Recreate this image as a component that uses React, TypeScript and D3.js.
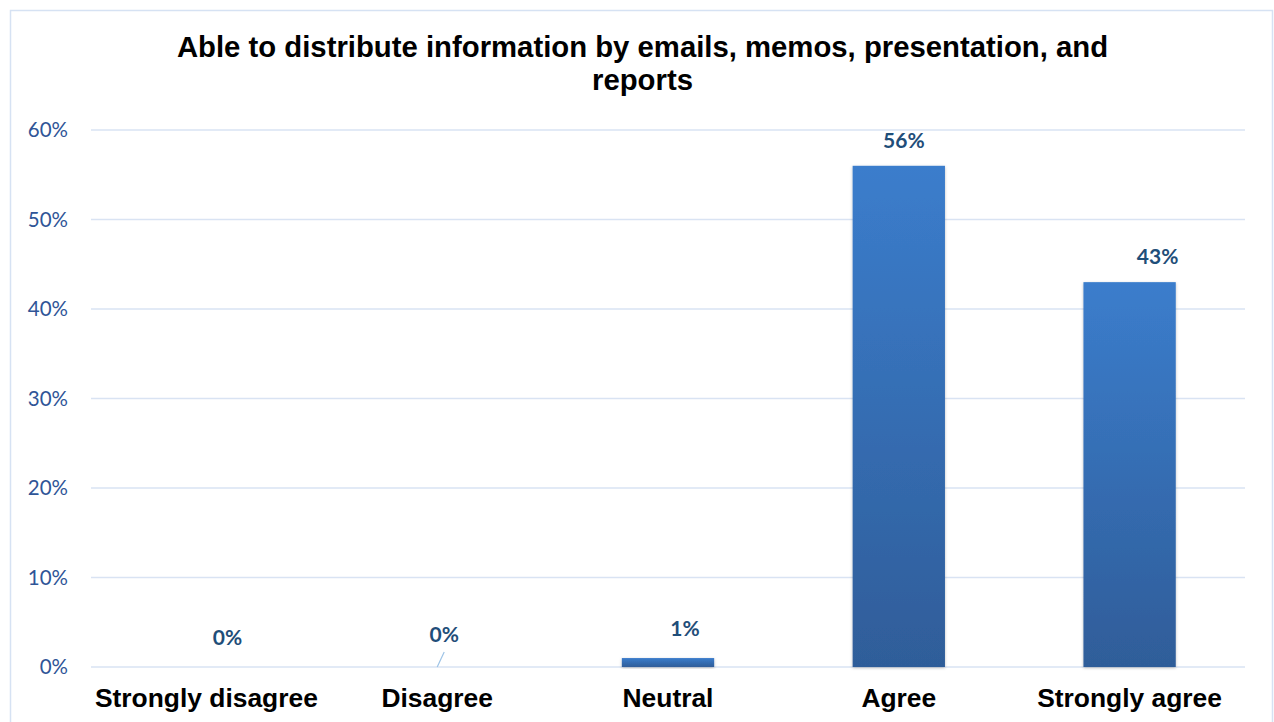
import React from "react";
import * as d3 from "d3";

const categories = ["Strongly disagree", "Disagree", "Neutral", "Agree", "Strongly agree"];
const values = [0, 0, 1, 56, 43];
const yTicks = [0, 10, 20, 30, 40, 50, 60];
const titleLines = ["Able to distribute information by emails, memos, presentation, and", "reports"];
// manual label nudges seen in the source chart (layout constants)
const labelDx = [21, 7, 17, 5, 28];
const labelBaselines = [645, 642, null, null, null];

export default function App() {
  const W = 1274, H = 722;
  const left = 91, right = 1245, top = 130, bottom = 667;
  const x = d3.scaleBand<string>().domain(categories).range([left, right]).paddingInner(0.6).paddingOuter(0.3);
  const y = d3.scaleLinear().domain([0, 60]).range([bottom, top]);
  return (
    <svg width={W} height={H} style={{ position: "absolute", left: 0, top: 0 }}>
      <defs>
        <linearGradient id="bg" x1="0" y1="0" x2="0" y2="1">
          <stop offset="0" stopColor="#3B7DCC" />
          <stop offset="1" stopColor="#2F5D99" />
        </linearGradient>
        <filter id="sh" x="-20%" y="-20%" width="140%" height="140%">
          <feDropShadow dx="0" dy="1" stdDeviation="1.5" floodColor="#000" floodOpacity="0.25" />
        </filter>
      </defs>
      <rect x={0} y={0} width={W} height={H} fill="#fff" />
      <rect x={10.5} y={10.5} width={1262} height={730} fill="none" stroke="#D6E2F3" strokeWidth={1.5} />
      {titleLines.map((t, i) => (
        <text key={i} x={642.5} y={57 + i * 33} textAnchor="middle" fontFamily="Liberation Sans, Arial" fontWeight="bold" fontSize={29.3} fill="#000">{t}</text>
      ))}
      {yTicks.map((t) => (
        <g key={t}>
          <line x1={left} x2={right} y1={y(t)} y2={y(t)} stroke="#D9E3F3" strokeWidth={1.5} />
          <text x={68} y={y(t) + 7} textAnchor="end" fontFamily="Lato, Carlito, sans-serif" fontSize={20.5} fill="#2F5597">{t}%</text>
        </g>
      ))}
      {categories.map((c, i) => {
        const v = values[i];
        const bx = x(c)!;
        const bw = x.bandwidth();
        const cx = bx + bw / 2;
        const by = y(v);
        const lb = labelBaselines[i];
        const labelY = lb != null ? lb : (v < 5 ? by - 22 : by - 18);
        return (
          <g key={c}>
            {v > 0 && <rect x={bx} y={by} width={bw} height={bottom - by} fill="url(#bg)" filter="url(#sh)" />}
            {i === 1 && <line x1={cx} y1={bottom} x2={cx + 7} y2={bottom - 15} stroke="#9DC3E6" strokeWidth={1.2} />}
            <text x={cx + labelDx[i]} y={labelY} textAnchor="middle" fontFamily="Lato, Carlito, sans-serif" fontWeight="bold" fontSize={21} fill="#1F4E79">{v}%</text>
            <text x={cx} y={707} textAnchor="middle" fontFamily="Liberation Sans, Arial" fontWeight="bold" fontSize={26.4} fill="#000">{c}</text>
          </g>
        );
      })}
    </svg>
  );
}
